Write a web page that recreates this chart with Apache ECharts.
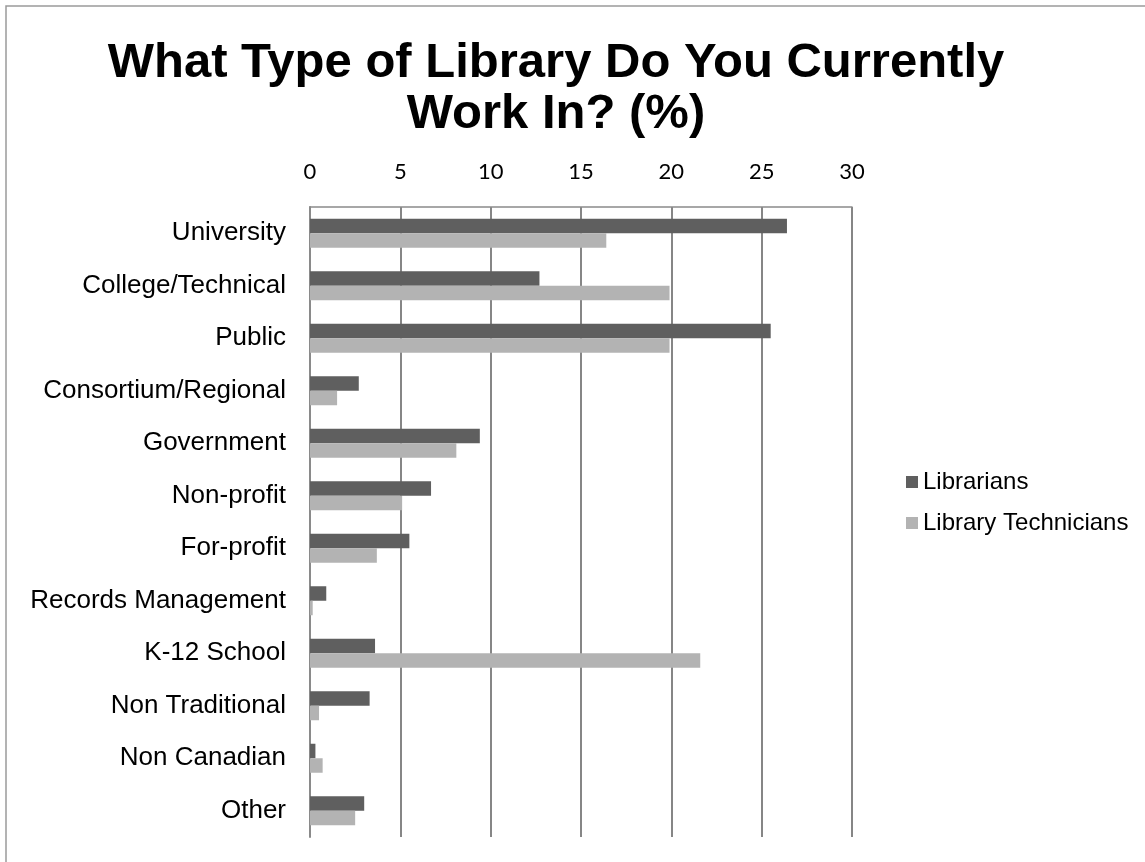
<!DOCTYPE html>
<html>
<head>
<meta charset="utf-8">
<script src="https://cdn.jsdelivr.net/npm/echarts@6/dist/echarts.min.js"></script>
<style>
html,body{margin:0;padding:0;background:#fff;}
#chart{width:1145px;height:862px;}
</style>
</head>
<body>
<div id="chart"></div>
<script>
const categories = ["University","College/Technical","Public","Consortium/Regional","Government","Non-profit","For-profit","Records Management","K-12 School","Non Traditional","Non Canadian","Other"];
const librarians = [26.4, 12.7, 25.5, 2.7, 9.4, 6.7, 5.5, 0.9, 3.6, 3.3, 0.3, 3.0];
const technicians = [16.4, 19.9, 19.9, 1.5, 8.1, 5.1, 3.7, 0.15, 21.6, 0.5, 0.7, 2.5];
const xTicks = {min: 0, max: 30, interval: 5};

const chart = echarts.init(document.getElementById('chart'));
chart.setOption({
  backgroundColor: '#ffffff',
  animation: false,
  graphic: [{
    type: 'rect', shape: {x: 6, y: 6, width: 1300, height: 1000},
    style: {fill: 'none', stroke: '#9a9a9a', lineWidth: 1.5}, silent: true
  }],
  title: {
    text: 'What Type of Library Do You Currently\nWork In? (%)',
    left: 551, top: 33, textAlign: 'center',
    textStyle: {fontFamily: 'Liberation Sans, Arial, sans-serif', fontWeight: 'bold', fontSize: 49, lineHeight: 51, color: '#000'}
  },
  legend: {
    orient: 'vertical', left: 906, top: 470, padding: 0,
    itemWidth: 12, itemHeight: 12, itemGap: 17,
    icon: 'rect',
    textStyle: {fontFamily: 'Liberation Sans, Arial, sans-serif', fontSize: 24, color: '#000'},
    data: ['Librarians', 'Library Technicians']
  },
  grid: {left: 310, right: 293, top: 207, bottom: 25, containLabel: false},
  xAxis: {
    type: 'value', position: 'top',
    min: xTicks.min, max: xTicks.max, interval: xTicks.interval,
    axisLine: {show: true, lineStyle: {color: '#8a8a8a', width: 1.5}},
    axisTick: {show: false},
    axisLabel: {fontFamily: 'Lato, Carlito, Calibri, sans-serif', fontSize: 22, color: '#000', margin: 24},
    splitLine: {show: true, lineStyle: {color: '#868686', width: 2}}
  },
  yAxis: {
    type: 'category', inverse: true, data: categories,
    axisLine: {show: true, lineStyle: {color: '#8a8a8a', width: 2}},
    axisTick: {show: false},
    axisLabel: {fontFamily: 'Liberation Sans, Arial, sans-serif', fontSize: 26, color: '#000', margin: 24}
  },
  series: [
    {name: 'Librarians', type: 'bar', data: librarians, barWidth: 14.5, barGap: '0%',
     itemStyle: {color: '#5f5f5f'}},
    {name: 'Library Technicians', type: 'bar', data: technicians, barWidth: 14.5, barGap: '0%',
     itemStyle: {color: '#b3b3b3'}}
  ]
});
</script>
</body>
</html>
